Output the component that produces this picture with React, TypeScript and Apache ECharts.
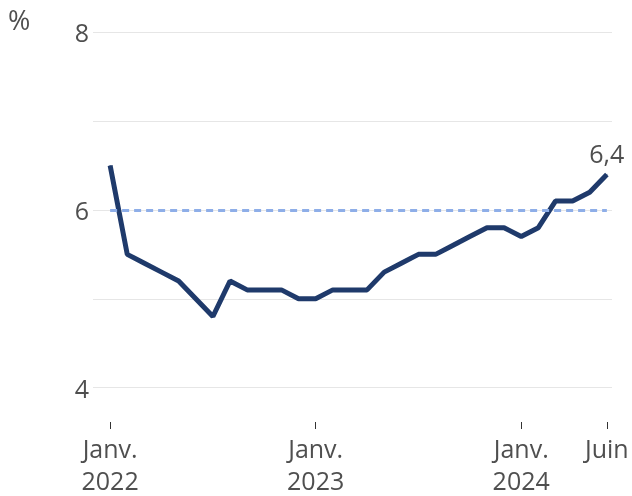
import React, { useEffect, useRef } from "react";
import * as echarts from "echarts";

// Taux (%) mensuels, janvier 2022 à juin 2024
const RATES: number[] = [
  6.5, 5.5, 5.4, 5.3, 5.2, 5.0, 4.8, 5.2, 5.1, 5.1, 5.1, 5.0,
  5.0, 5.1, 5.1, 5.1, 5.3, 5.4, 5.5, 5.5, 5.6, 5.7, 5.8, 5.8,
  5.7, 5.8, 6.1, 6.1, 6.2, 6.4,
];
const TARGET = 6;
const TICK_INDICES: number[] = [0, 12, 24, 29];
const TICK_LABELS: string[] = ["Janv.\n2022", "Janv.\n2023", "Janv.\n2024", "Juin"];
const Y_LABELS: number[] = [4, 6, 8];
const UNIT = "%";

const FONT = "'Open Sans', 'Noto Sans', sans-serif";
const TEXT = "#4f4f4f";
const NAVY = "#1f3a6b";

export default function App() {
  const ref = useRef<HTMLDivElement>(null);

  useEffect(() => {
    if (!ref.current) return;
    const chart = echarts.init(ref.current, undefined, { renderer: "svg" });
    const last = RATES.length - 1;
    const lineData = RATES.map((v, i) =>
      i === last ? { value: [i, v], label: { show: true } } : [i, v]
    );
    chart.setOption({
      animation: false,
      textStyle: { fontFamily: FONT },
      title: {
        text: UNIT,
        left: 3,
        top: 1,
        textStyle: { fontSize: 27, fontWeight: "normal", color: TEXT, fontFamily: FONT },
      },
      grid: { left: 93, right: 20, top: 32.3, bottom: 63.2, containLabel: false },
      xAxis: {
        type: "value",
        min: -1,
        max: 29.3,
        offset: -10,
        axisLine: { show: false },
        splitLine: { show: false },
        axisTick: {
          show: true,
          customValues: TICK_INDICES,
          length: 7,
          lineStyle: { color: "#333", width: 1 },
        },
        axisLabel: {
          customValues: TICK_INDICES,
          formatter: (v: number) => {
            const k = TICK_INDICES.indexOf(v);
            return k >= 0 ? TICK_LABELS[k] : "";
          },
          fontSize: 25,
          lineHeight: 32,
          color: TEXT,
          fontFamily: FONT,
          margin: 10,
        },
      },
      yAxis: {
        type: "value",
        min: 3.5,
        max: 8,
        interval: 0.5,
        axisLine: { show: false },
        axisTick: { show: false },
        splitLine: {
          show: true,
          lineStyle: { color: ["rgba(0,0,0,0)", "#e6e6e6"], width: 1 },
        },
        axisLabel: {
          formatter: (v: number) => (Y_LABELS.indexOf(v) >= 0 ? String(v) : ""),
          fontSize: 25,
          color: TEXT,
          fontFamily: FONT,
          margin: 4,
        },
      },
      series: [
        {
          type: "line",
          data: [],
          z: 1,
          markLine: {
            silent: true,
            symbol: ["none", "none"],
            label: { show: false },
            lineStyle: { color: "#8eaee8", width: 3, type: [7, 5] },
            data: [[{ coord: [0, TARGET] }, { coord: [last, TARGET] }]],
          },
        },
        {
          type: "line",
          z: 2,
          data: lineData,
          showSymbol: true,
          symbol: "circle",
          symbolSize: 1,
          itemStyle: { color: NAVY },
          lineStyle: { color: NAVY, width: 5 },
          label: {
            show: false,
            position: "top",
            distance: 8,
            fontSize: 25,
            color: TEXT,
            fontFamily: FONT,
            formatter: (p: any) => String(p.value[1]).replace(".", ","),
          },
        },
      ],
    });
    return () => chart.dispose();
  }, []);

  return (
    <div
      ref={ref}
      style={{ position: "fixed", left: 0, top: 0, width: 632, height: 496 }}
    />
  );
}
